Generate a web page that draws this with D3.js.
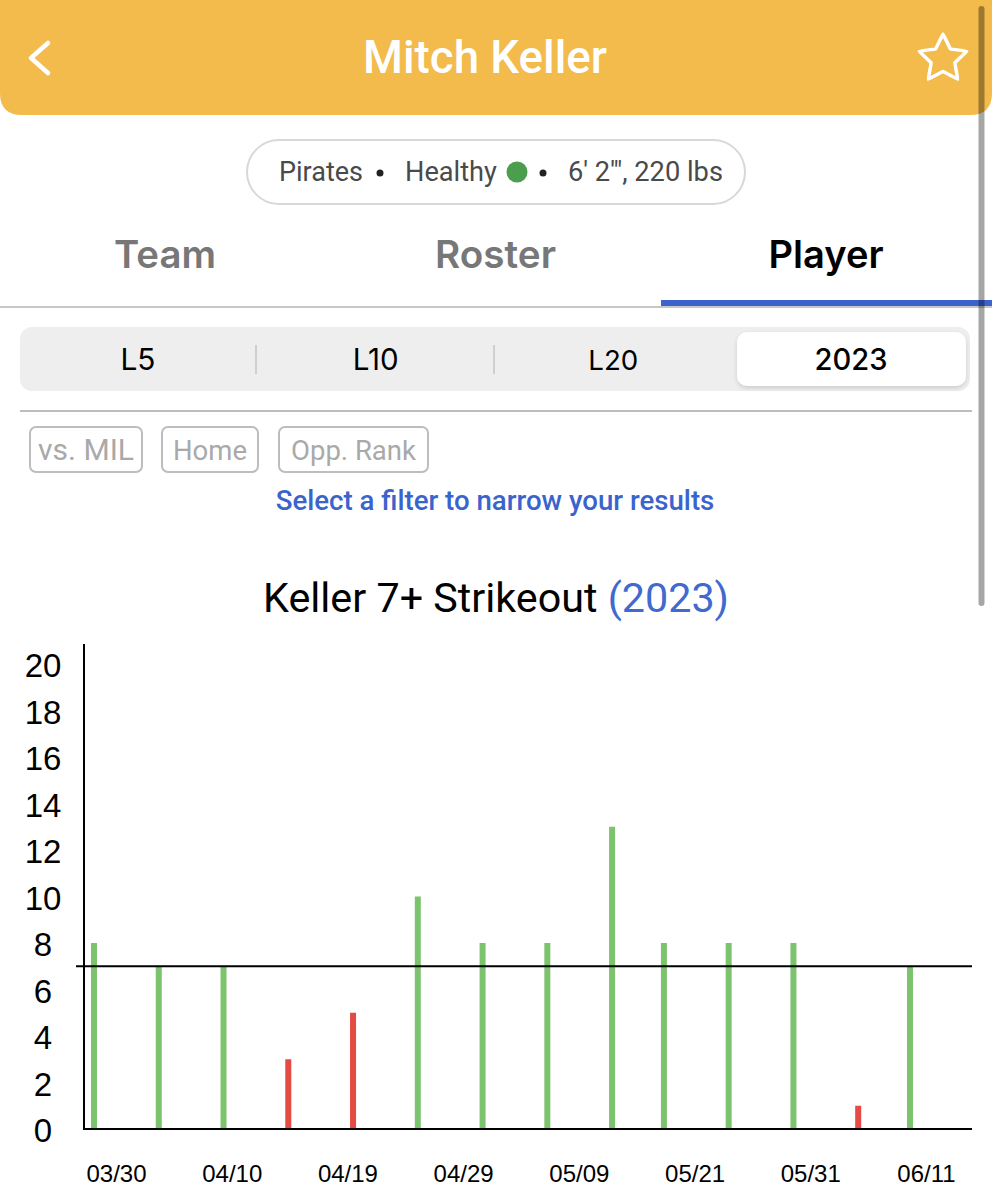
<!DOCTYPE html>
<html>
<head>
<meta charset="utf-8">
<script src="https://cdn.jsdelivr.net/npm/d3@7/dist/d3.min.js"></script>
<style>
  html, body { margin: 0; padding: 0; background: #fff; }
  svg { display: block; }
</style>
</head>
<body>
<svg id="page" width="992" height="1200"></svg>
<script>
// ---------------- DATA ----------------
const playerName = "Mitch Keller";
const infoTeam = "Pirates";
const infoStatus = "Healthy";
const infoBody = "6' 2'\", 220 lbs";
const tabs = ["Team", "Roster", "Player"];
const activeTab = "Player";
const segments = ["L5", "L10", "L20", "2023"];
const activeSegment = "2023";
const filters = ["vs. MIL", "Home", "Opp. Rank"];
const filterHint = "Select a filter to narrow your results";
const chartTitle = "Keller 7+ Strikeout ";
const chartTitleYear = "(2023)";

const gameDates = ["2023-03-30","2023-04-04","2023-04-09","2023-04-14","2023-04-19","2023-04-24","2023-04-29",
                   "2023-05-04","2023-05-09","2023-05-13","2023-05-18","2023-05-23","2023-05-28","2023-06-01"];
const strikeouts = [8, 7, 7, 3, 5, 10, 8, 8, 13, 8, 8, 8, 1, 7];
const threshold = 7;
const yTickValues = [0, 2, 4, 6, 8, 10, 12, 14, 16, 18, 20];
const xTickLabels = ["03/30", "04/10", "04/19", "04/29", "05/09", "05/21", "05/31", "06/11"];

// ---------------- HELPERS ----------------
const svg = d3.select("#page");
const defs = svg.append("defs");
function fitWidth(sel, target) {
  const node = sel.node();
  const fs = parseFloat(sel.attr("font-size"));
  const w = node.getComputedTextLength();
  if (w > 0) sel.attr("font-size", (fs * target / w).toFixed(2));
  return sel;
}

// ---------------- HEADER ----------------
const HDR = 115, R = 22;
svg.append("path")
  .attr("d", `M0,0 H992 V${HDR - R} Q992,${HDR} ${992 - R},${HDR} H${R} Q0,${HDR} 0,${HDR - R} Z`)
  .attr("fill", "#f2bb4b");
svg.append("path")
  .attr("d", "M48,43 L31,58 L48,73")
  .attr("fill", "none").attr("stroke", "#fff").attr("stroke-width", 4.5)
  .attr("stroke-linecap", "round").attr("stroke-linejoin", "round");
// star outline
(function () {
  const cx = 943, cy = 59, ro = 25, ri = 12.5;
  const pts = d3.range(10).map(i => {
    const a = -Math.PI / 2 + i * Math.PI / 5;
    const r = i % 2 === 0 ? ro : ri;
    return [cx + r * Math.cos(a), cy + r * Math.sin(a)];
  });
  svg.append("path").attr("d", d3.line().curve(d3.curveCardinalClosed.tension(0.85))(pts))
    .attr("fill", "none").attr("stroke", "#fff").attr("stroke-width", 3.5)
    .attr("stroke-linejoin", "round");
})();
const title = svg.append("text").text(playerName)
  .attr("x", 485).attr("y", 73).attr("text-anchor", "middle")
  .attr("font-family", "Roboto, sans-serif").attr("font-weight", 500)
  .attr("font-size", 42).attr("fill", "#fff");
fitWidth(title, 244);

// ---------------- INFO PILL ----------------
svg.append("rect").attr("x", 247).attr("y", 140).attr("width", 498).attr("height", 64)
  .attr("rx", 32).attr("fill", "#fff").attr("stroke", "#d8d8d8").attr("stroke-width", 2);
const pillFont = "Roboto, sans-serif", pillCol = "#4a4a4a", pillY = 181;
fitWidth(svg.append("text").text(infoTeam).attr("x", 279).attr("y", pillY)
  .attr("font-family", pillFont).attr("font-size", 26).attr("fill", pillCol), 84);
svg.append("circle").attr("cx", 380).attr("cy", 173).attr("r", 3.5).attr("fill", "#222");
fitWidth(svg.append("text").text(infoStatus).attr("x", 405).attr("y", pillY)
  .attr("font-family", pillFont).attr("font-size", 26).attr("fill", pillCol), 92);
svg.append("circle").attr("cx", 517).attr("cy", 172).attr("r", 10.5).attr("fill", "#4a9e4e");
svg.append("circle").attr("cx", 543).attr("cy", 173).attr("r", 3.5).attr("fill", "#222");
fitWidth(svg.append("text").text(infoBody).attr("x", 568).attr("y", pillY)
  .attr("font-family", pillFont).attr("font-size", 26).attr("fill", pillCol), 155);

// ---------------- TABS ----------------
const tabCenters = d3.scalePoint().domain(tabs).range([165, 826]);
const tabWidths = {"Team": 102, "Roster": 121, "Player": 115};
tabs.forEach(t => {
  const s = svg.append("text").text(t).attr("x", tabCenters(t)).attr("y", 268)
    .attr("text-anchor", "middle").attr("font-family", "Inter, 'Noto Sans', sans-serif")
    .attr("font-weight", 600).attr("font-size", 40)
    .attr("fill", t === activeTab ? "#000" : "#777");
  fitWidth(s, tabWidths[t]);
});
svg.append("line").attr("x1", 0).attr("x2", 992).attr("y1", 307).attr("y2", 307)
  .attr("stroke", "#b5b5b5").attr("stroke-width", 1.5);
svg.append("rect").attr("x", 661).attr("y", 300).attr("width", 331).attr("height", 6)
  .attr("fill", "#3b63cc");

// ---------------- SEGMENTED CONTROL ----------------
defs.append("filter").attr("id", "shadow").attr("x", "-10%").attr("y", "-20%")
  .attr("width", "120%").attr("height", "160%")
  .append("feDropShadow").attr("dx", 0).attr("dy", 2).attr("stdDeviation", 2)
  .attr("flood-color", "#000").attr("flood-opacity", 0.15);
svg.append("rect").attr("x", 20).attr("y", 327).attr("width", 950).attr("height", 64)
  .attr("rx", 12).attr("fill", "#eeeeee");
const segCenters = d3.scalePoint().domain(segments).range([138, 851]);
svg.append("rect").attr("x", 737).attr("y", 332).attr("width", 229).attr("height", 54)
  .attr("rx", 10).attr("fill", "#fff").attr("filter", "url(#shadow)");
[256, 494].forEach(x => svg.append("line").attr("x1", x).attr("x2", x).attr("y1", 345).attr("y2", 374)
  .attr("stroke", "#cfcfcf").attr("stroke-width", 2));
const segWidths = {"L5": 35, "L10": 46, "L20": 50, "2023": 73};
segments.forEach(s => {
  const t = svg.append("text").text(s).attr("x", segCenters(s)).attr("y", 370)
    .attr("text-anchor", "middle").attr("font-family", "Inter, 'Noto Sans', sans-serif")
    .attr("font-weight", s === activeSegment ? 500 : 400).attr("font-size", 26).attr("fill", "#000");
  fitWidth(t, segWidths[s]);
});
svg.append("line").attr("x1", 20).attr("x2", 972).attr("y1", 411).attr("y2", 411)
  .attr("stroke", "#bdbdbd").attr("stroke-width", 2);

// ---------------- FILTERS ----------------
const filterBoxes = {"vs. MIL": [30, 112], "Home": [162, 96], "Opp. Rank": [279, 149]};
const filterTextW = {"vs. MIL": 96, "Home": 74, "Opp. Rank": 125};
filters.forEach(f => {
  const [x, w] = filterBoxes[f];
  svg.append("rect").attr("x", x).attr("y", 427).attr("width", w).attr("height", 45)
    .attr("rx", 6).attr("fill", "#fff").attr("stroke", "#bdbdbd").attr("stroke-width", 2);
  const t = svg.append("text").text(f).attr("x", x + w / 2).attr("y", 460)
    .attr("text-anchor", "middle").attr("font-family", "Roboto, sans-serif")
    .attr("font-size", 26).attr("fill", "#a9a9a9");
  fitWidth(t, filterTextW[f]);
});
fitWidth(svg.append("text").text(filterHint).attr("x", 495).attr("y", 510)
  .attr("text-anchor", "middle").attr("font-family", "Roboto, sans-serif").attr("font-weight", 500)
  .attr("font-size", 25).attr("fill", "#3b63cc"), 439);

// ---------------- CHART TITLE ----------------
const ct = svg.append("text").attr("x", 496).attr("y", 612).attr("text-anchor", "middle")
  .attr("font-family", "Roboto, sans-serif").attr("font-size", 38);
ct.append("tspan").text(chartTitle).attr("fill", "#000");
ct.append("tspan").text(chartTitleYear).attr("fill", "#4169cf");
fitWidth(ct, 466);

// ---------------- CHART ----------------
const plot = {left: 84, right: 972, top: 644, bottom: 1129};
const parse = d3.timeParse("%Y-%m-%d");
const games = gameDates.map((d, i) => ({date: parse(d), k: strikeouts[i]}));
const x = d3.scaleTime().domain(d3.extent(games, d => d.date)).range([94, 910]);
const y = d3.scaleLinear().domain([0, 20]).range([plot.bottom, 664]);
const xLab = d3.scalePoint().domain(xTickLabels).range([116, 926]);
const barW = 6;

svg.append("g").selectAll("rect").data(games).join("rect")
  .attr("x", d => x(d.date) - barW / 2)
  .attr("y", d => y(d.k))
  .attr("width", barW)
  .attr("height", d => y(0) - y(d.k))
  .attr("fill", d => d.k >= threshold ? "#7cc36e" : "#e34b43");

// y axis
const yAxis = svg.append("g").attr("transform", `translate(${plot.left},0)`)
  .call(d3.axisLeft(y).tickValues(yTickValues).tickSize(0).tickFormat(d3.format("d")));
yAxis.select(".domain").remove();
yAxis.selectAll("text").attr("x", -41).attr("dy", "0.38em").attr("text-anchor", "middle")
  .attr("font-family", "'Liberation Sans', Arial, sans-serif").attr("font-size", 33).attr("fill", "#000");
svg.append("line").attr("x1", plot.left).attr("x2", plot.left).attr("y1", plot.top).attr("y2", plot.bottom + 1)
  .attr("stroke", "#000").attr("stroke-width", 2);
svg.append("line").attr("x1", plot.left).attr("x2", plot.right).attr("y1", y(0)).attr("y2", y(0))
  .attr("stroke", "#000").attr("stroke-width", 2);
// threshold line
svg.append("line").attr("x1", 76).attr("x2", plot.right).attr("y1", y(threshold)).attr("y2", y(threshold))
  .attr("stroke", "#000").attr("stroke-width", 2);

// x axis labels
defs.append("clipPath").attr("id", "xclip").append("rect")
  .attr("x", 86).attr("y", 1140).attr("width", 906).attr("height", 60);
const xAxis = svg.append("g").attr("clip-path", "url(#xclip)")
  .append("g").attr("transform", "translate(0,1163)")
  .call(d3.axisBottom(xLab).tickSize(0));
xAxis.select(".domain").remove();
xAxis.selectAll("text").attr("font-family", "'Liberation Sans', Arial, sans-serif")
  .attr("font-size", 24).attr("fill", "#000").attr("dy", "0.71em").attr("y", 2);

// ---------------- SCROLLBAR ----------------
svg.append("rect").attr("x", 978.5).attr("y", 6).attr("width", 6).attr("height", 600)
  .attr("rx", 3).attr("fill", "#000").attr("opacity", 0.35);
</script>
</body>
</html>
